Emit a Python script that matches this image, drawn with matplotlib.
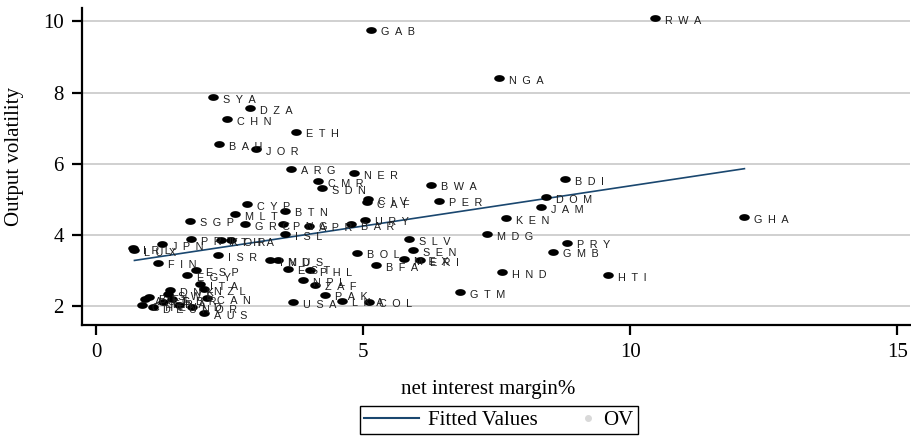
import numpy as np
import matplotlib
matplotlib.use("Agg")
import matplotlib.pyplot as plt
from matplotlib.lines import Line2D
from matplotlib.legend_handler import HandlerLine2D

codes = ["RWA","GAB","NGA","SYA","DZA","CHN","ETH","BAH","JOR","ARG","NER","CMR","SDN",
         "CIV","CAF","BWA","PER","BDI","DOM","JAM","KEN","GHA","MDG","PRY","GMB","HND",
         "HTI","GTM","URY","BAR","SLV","SEN","BOL","MEX","ERI","BFA","PAK","LKA","COL",
         "USA","IND","MUS","EST","PHL","NPL","ZAF","CYP","BTN","MLT","SGP","GRC","PNG",
         "APR","ISL","PRT","KOR","THA","JPN","IRL","LUX","FIN","ISR","ESP","EGY","ITA",
         "DNK","NZL","CAN","AUT","BEL","CHE","DEU","FRA","GBR","SWE","NOR","NLD","AUS"]
nim = [10.46,5.15,7.55,2.19,2.88,2.45,3.74,2.30,2.99,3.66,4.83,4.15,4.24,
       5.09,5.08,6.28,6.43,8.79,8.42,8.33,7.68,12.14,7.32,8.82,8.55,7.60,
       9.58,6.81,5.03,4.77,5.86,5.94,4.89,5.77,6.07,5.25,4.28,4.61,5.11,
       3.69,3.25,3.40,3.59,4.00,3.88,4.10,2.82,3.54,2.61,1.76,2.79,3.50,
       3.98,3.54,1.78,2.34,2.52,1.24,0.69,0.72,1.16,2.29,1.88,1.71,1.95,
       1.39,2.03,2.07,0.91,1.00,0.87,1.06,1.25,1.43,1.34,1.80,1.56,2.03]
ov = [10.10,9.77,8.40,7.87,7.56,7.26,6.90,6.56,6.40,5.86,5.73,5.51,5.31,
      5.01,4.92,5.41,4.96,5.56,5.07,4.77,4.48,4.50,4.03,3.78,3.53,2.96,
      2.87,2.38,4.43,4.31,3.87,3.58,3.50,3.32,3.30,3.14,2.32,2.15,2.12,
      2.10,3.29,3.29,3.05,3.00,2.72,2.60,4.87,4.68,4.58,4.40,4.30,4.30,
      4.26,4.03,3.89,3.85,3.85,3.75,3.63,3.58,3.22,3.44,3.00,2.87,2.61,
      2.45,2.47,2.22,2.19,2.25,2.03,1.97,2.11,2.19,2.33,1.97,2.03,1.80]

fit_x = [0.72, 12.14]
fit_y = [3.28, 5.86]

xticks = [0, 5, 10, 15]
yticks = [2, 4, 6, 8, 10]

serif = ["Liberation Serif", "DejaVu Serif"]
navy = "#1a476f"

fig = plt.figure(figsize=(9.12, 4.36), dpi=100)
ax = fig.add_axes([82/912, 1-325/436, (910-82)/912, (325-8)/436])
ax.set_xlim(-0.262, 15.24)
ax.set_ylim(1.465, 10.377)

for yv in yticks:
    ax.axhline(yv, color="#c8c8c8", lw=1.2, zorder=0)

t = np.linspace(0, 2*np.pi, 40)
ell = list(zip(np.cos(t), 0.64*np.sin(t)))
ax.scatter(nim, ov, marker=ell, s=58, color="black", linewidths=0, zorder=3)

sp = "\u2002"
for c, xv, yv in zip(codes, nim, ov):
    ax.annotate(sp.join(c), (xv, yv), xytext=(7.2, -2), textcoords="offset points",
                ha="left", va="center", fontsize=7.8,
                family=["Liberation Sans", "DejaVu Sans"],
                color="#1e1e1e", zorder=4)

ax.plot(fit_x, fit_y, color=navy, lw=1.2, zorder=2)

for s in ["top", "right"]:
    ax.spines[s].set_visible(False)
for s in ["left", "bottom"]:
    ax.spines[s].set_linewidth(1.6)
ax.set_xticks(xticks)
ax.set_yticks(yticks)
ax.tick_params(axis="both", direction="out", length=7, width=1.6,
               labelsize=15, pad=6)
for lab in ax.get_xticklabels() + ax.get_yticklabels():
    lab.set_family(serif)

fig.text(15/912, 1-157/436, "Output volatility", rotation=90, ha="center",
         va="center", fontsize=15, family=serif)
fig.text(488/912, 1-389/436, "net interest margin%", ha="center", va="center",
         fontsize=15, family=serif)

h_line = Line2D([], [], color=navy, lw=1.5)
h_dot = Line2D([], [], marker="o", ms=4, color="#d9d9d9", ls="none")
leg = fig.legend([h_line, h_dot], ["Fitted Values", "OV"], loc="center",
                 bbox_to_anchor=(499/912, 1-420/436), ncol=2, frameon=True,
                 fancybox=False, edgecolor="black", framealpha=1,
                 prop={"family": serif, "size": 15}, handlelength=2.6,
                 columnspacing=0.1, borderpad=0.2, handletextpad=0.45,
                 borderaxespad=0,
                 handler_map={h_dot: HandlerLine2D(numpoints=1, xpad=2.0)})
leg.get_frame().set_linewidth(1.0)

fig.savefig("out.png", dpi=100)
